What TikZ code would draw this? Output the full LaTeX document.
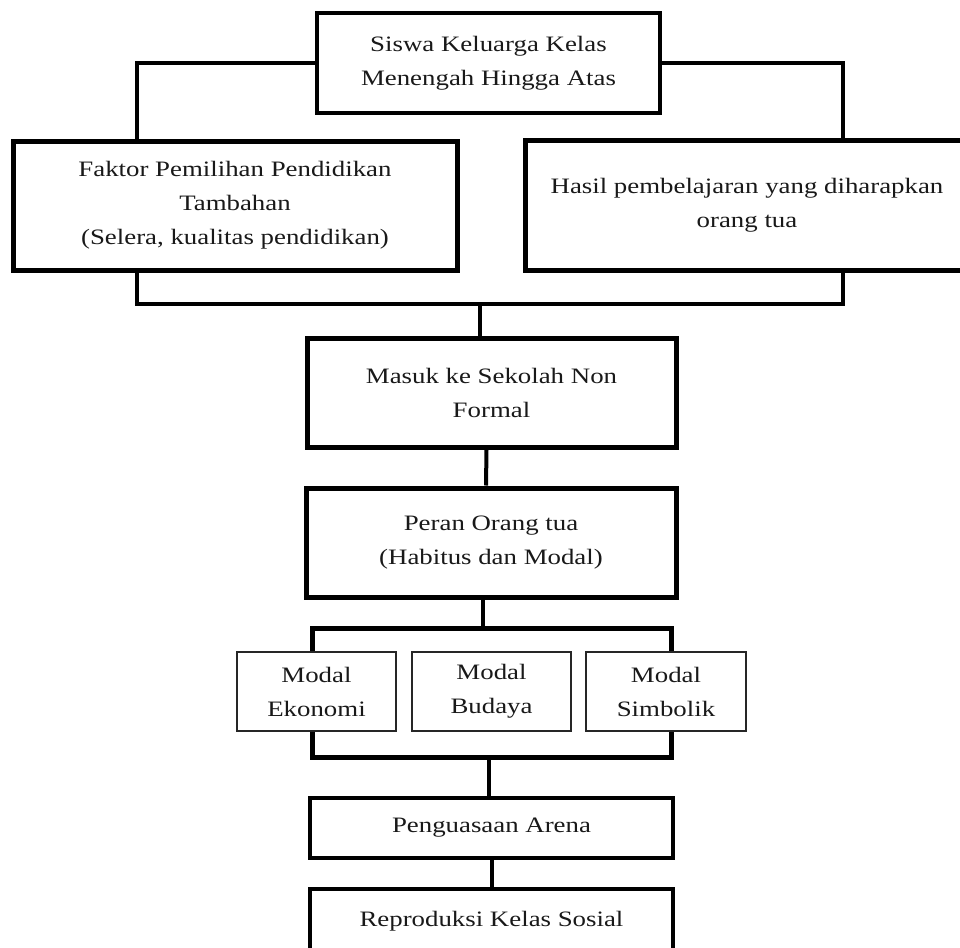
\documentclass[tikz,border=0pt]{standalone}
\usepackage{fontspec}
\setmainfont{Liberation Serif}[FakeStretch=1.22]
\usepackage{tikz}
\usetikzlibrary{positioning, calc}

\begin{document}
\begin{tikzpicture}[x=1pt, y=-1pt]
\useasboundingbox (0,0) rectangle (960,947);
\clip (0,0) rectangle (960,947);
% style: defaultText
\tikzstyle{defaultText}=[font=\fontsize{22}{34}\selectfont,align=center,text=black!90,inner sep=0pt]
% style: defaultEdge
\tikzstyle{defaultEdge}=[line width=4pt,black]
% style: TopBox_style
\tikzstyle{TopBox_style}=[defaultText,rectangle,draw=black,line width=4pt,fill=white]
% style: FactorBox_style
\tikzstyle{FactorBox_style}=[defaultText,rectangle,draw=black,line width=5pt,fill=white]
% style: ModalBox_style
\tikzstyle{ModalBox_style}=[defaultText,rectangle,draw=black!85,line width=1.8pt,fill=white,minimum width=159pt,minimum height=79pt]
% style: ArenaBox_style
\tikzstyle{ArenaBox_style}=[defaultText,rectangle,draw=black,line width=3.5pt,fill=white,minimum width=363pt,minimum height=60pt]

% node group: top_group
% node: siswa_kelas
\node[TopBox_style, minimum width=343pt, minimum height=100pt] (siswa_kelas) at (488.5, 63)
    {Siswa Keluarga Kelas\\Menengah Hingga Atas};
% node: faktor_pemilihan
\node[FactorBox_style, minimum width=444pt, minimum height=129pt] (faktor_pemilihan) at (235, 205.5)
    {Faktor Pemilihan Pendidikan\\Tambahan\\(Selera, kualitas pendidikan)};
% node: hasil_harapan
\node[FactorBox_style, minimum width=444pt, minimum height=130pt] (hasil_harapan) at (747, 205)
    {Hasil pembelajaran yang diharapkan\\orang tua};
% end of node group: top_group

% node group: middle_group
% node: masuk_sekolah
\node[FactorBox_style, minimum width=369pt, minimum height=109pt] (masuk_sekolah) at (491.5, 392.5)
    {Masuk ke Sekolah Non\\Formal};
% node: peran_orangtua
\node[FactorBox_style, minimum width=370pt, minimum height=109pt] (peran_orangtua) at (491, 542.5)
    {Peran Orang tua\\(Habitus dan Modal)};
% end of node group: middle_group

% node group: modal_group
% node: modal_ekonomi
\node[ModalBox_style] (modal_ekonomi) at (316.5, 691.5)
    {Modal\\Ekonomi};
% node: modal_budaya
\node[ModalBox_style] (modal_budaya) at (491.5, 691.5)
    {Modal\\Budaya};
% node: modal_simbolik
\node[ModalBox_style, minimum width=160pt] (modal_simbolik) at (666, 691.5)
    {Modal\\Simbolik};
% end of node group: modal_group

% node group: bottom_group
% node: penguasaan_arena
\node[ArenaBox_style] (penguasaan_arena) at (491.5, 828)
    {Penguasaan Arena};
% node: reproduksi_kelas
\node[ArenaBox_style, minimum height=64pt] (reproduksi_kelas) at (491.5, 921)
    {Reproduksi Kelas Sosial};
% end of node group: bottom_group

% joints
\coordinate (join_point) at (480, 304);
\coordinate (bracket_top) at (483, 628);
\coordinate (bracket_bottom) at (489, 757);

% edge from siswa_kelas to faktor_pemilihan
\draw[defaultEdge] (siswa_kelas.west) -| ([xshift=-98pt]faktor_pemilihan.north);

% edge from siswa_kelas to hasil_harapan
\draw[defaultEdge] (siswa_kelas.east) -| ([xshift=96pt]hasil_harapan.north);

% edge from faktor_pemilihan and hasil_harapan to masuk_sekolah
\draw[defaultEdge] ([xshift=-98pt]faktor_pemilihan.south) |- (join_point) -| ([xshift=96pt]hasil_harapan.south);
\draw[defaultEdge] (join_point) -- (join_point |- masuk_sekolah.north);

% edge from masuk_sekolah to peran_orangtua
\draw[defaultEdge] ([xshift=-5pt]masuk_sekolah.south) -- ([xshift=-5pt]peran_orangtua.north);

% edge from peran_orangtua to modal_group
\draw[defaultEdge] ([xshift=-8pt]peran_orangtua.south) -- (bracket_top);
\draw[defaultEdge, line width=5pt] ([xshift=-4.5pt]modal_ekonomi.north) |- (bracket_top) -| ([xshift=5pt]modal_simbolik.north);

% edge from modal_group to penguasaan_arena
\draw[defaultEdge, line width=5pt] ([xshift=-4.5pt]modal_ekonomi.south) |- (bracket_bottom) -| ([xshift=5pt]modal_simbolik.south);
\draw[defaultEdge] (bracket_bottom) -- ([xshift=-2.5pt]penguasaan_arena.north);

% edge from penguasaan_arena to reproduksi_kelas
\draw[defaultEdge] (penguasaan_arena) -- (reproduksi_kelas);

\end{tikzpicture}
\end{document}
